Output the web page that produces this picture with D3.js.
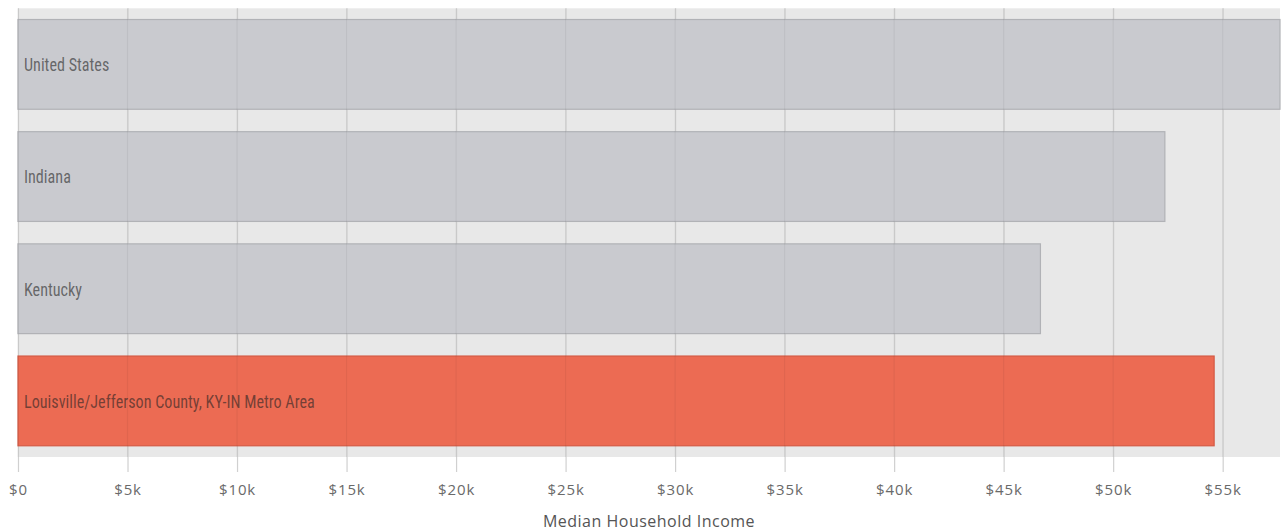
<!DOCTYPE html>
<html>
<head>
<meta charset="utf-8">
<script src="https://cdn.jsdelivr.net/npm/d3@7"></script>
<style>
  html, body { margin: 0; padding: 0; background: #ffffff; }
  svg { display: block; }
</style>
</head>
<body>
<svg id="chart" width="1282" height="531"></svg>
<script>
// Median household income by area
const areas = [
  "United States",
  "Indiana",
  "Kentucky",
  "Louisville/Jefferson County, KY-IN Metro Area"
];
const incomes = [57617, 52360, 46680, 54610];
const highlighted = [false, false, false, true];
const tickValues = [0, 5000, 10000, 15000, 20000, 25000, 30000, 35000, 40000, 45000, 50000, 55000];
const axisTitle = "Median Household Income";

const svg = d3.select("#chart");
const plot = { left: 18, right: 1280, top: 8.3, bottom: 457 };

const x = d3.scaleLinear()
  .domain([0, d3.max(incomes)])
  .range([plot.left, plot.right]);

const y = d3.scaleBand()
  .domain(areas)
  .range([plot.top, plot.bottom])
  .paddingInner(0.2)
  .paddingOuter(0.1);

// plot background
svg.append("rect")
  .attr("x", plot.left)
  .attr("y", plot.top)
  .attr("width", plot.right - plot.left)
  .attr("height", plot.bottom - plot.top)
  .attr("fill", "#e8e8e8");

// axis with gridlines running up through the plot
const axis = d3.axisBottom(x)
  .tickValues(tickValues)
  .tickSize(plot.bottom - plot.top + 15)
  .tickFormat(d => d === 0 ? "$0" : "$" + d / 1000 + "k");

const axisG = svg.append("g")
  .attr("transform", `translate(0,${plot.top})`)
  .call(axis);
axisG.select(".domain").remove();
axisG.selectAll(".tick line")
  .attr("stroke", "#d0d0d0")
  .attr("stroke-width", 1.2);
axisG.selectAll(".tick text")
  .attr("y", plot.bottom - plot.top + 33)
  .attr("dy", "0.35em")
  .attr("fill", "#6a6a6a")
  .style("font-family", "'Open Sans', sans-serif")
  .style("font-size", "15px")
  .style("letter-spacing", "0.9px");

const rows = areas.map((a, i) => ({ area: a, value: incomes[i], hi: highlighted[i] }));

// bars
svg.append("g")
  .selectAll("rect")
  .data(rows)
  .join("rect")
  .attr("x", x(0))
  .attr("y", d => y(d.area))
  .attr("width", d => x(d.value) - x(0))
  .attr("height", y.bandwidth())
  .attr("fill", d => d.hi ? "#ec6b53" : "#c9cacf")
  .attr("stroke", d => d.hi ? "#d45a44" : "#b1b2b6")
  .attr("stroke-width", 1.2);

// faint gridlines showing through the bars
svg.append("g")
  .selectAll("line")
  .data(tickValues)
  .join("line")
  .attr("x1", d => x(d))
  .attr("x2", d => x(d))
  .attr("y1", plot.top)
  .attr("y2", plot.bottom)
  .attr("stroke", "#000")
  .attr("stroke-opacity", 0.05)
  .attr("stroke-width", 1.2);

// in-bar labels, condensed
const labels = svg.append("g")
  .selectAll("text")
  .data(rows)
  .join("text")
  .attr("y", d => y(d.area) + y.bandwidth() / 2)
  .attr("dy", "0.36em")
  .attr("fill", "#222")
  .attr("fill-opacity", 0.6)
  .style("font-family", "'Liberation Sans Narrow', 'Roboto Condensed', 'DejaVu Sans Condensed', sans-serif")
  .style("font-size", "19px")
  .text(d => d.area);

const longest = labels.filter((d, i) => i === 3).node().getComputedTextLength();
const squeeze = 291 / longest;
labels.attr("transform", `translate(${plot.left + 6},0) scale(${squeeze},1)`);

// axis title
svg.append("text")
  .attr("x", (plot.left + plot.right) / 2)
  .attr("y", 521)
  .attr("dy", "0.35em")
  .attr("text-anchor", "middle")
  .attr("fill", "#555")
  .style("font-family", "'Open Sans', sans-serif")
  .style("font-size", "16px")
  .style("letter-spacing", "0.5px")
  .text(axisTitle);
</script>
</body>
</html>
